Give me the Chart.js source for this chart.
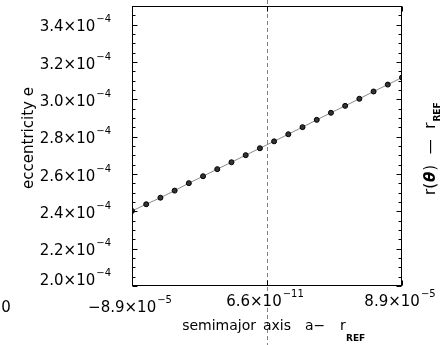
<!DOCTYPE html>
<html>
<head>
<meta charset="utf-8">
<script src="https://cdn.jsdelivr.net/npm/chart.js@4.4.0/dist/chart.umd.min.js"></script>
<style>
    html, body { margin: 0; padding: 0; background: #fff; }
    canvas { display: block; }
</style>
</head>
<body>
<canvas id="chart" width="441" height="345"></canvas>
<script>
// Datos: semieje mayor (a - r_REF) y excentricidad
const semimajorOffsets = [
    -8.900e-5, -7.963e-5, -7.026e-5, -6.089e-5, -5.153e-5,
    -4.216e-5, -3.279e-5, -2.342e-5, -1.405e-5, -0.468e-5,
     0.468e-5,  1.405e-5,  2.342e-5,  3.279e-5,  4.216e-5,
     5.153e-5,  6.089e-5,  7.026e-5,  7.963e-5,  8.900e-5
];
const eccentricities = [
    2.402e-4, 2.438e-4, 2.473e-4, 2.511e-4, 2.551e-4,
    2.588e-4, 2.626e-4, 2.663e-4, 2.701e-4, 2.738e-4,
    2.775e-4, 2.813e-4, 2.851e-4, 2.890e-4, 2.928e-4,
    2.965e-4, 3.003e-4, 3.042e-4, 3.079e-4, 3.117e-4
];

// Referencia (linea discontinua)
const referenceOffset = 6.6e-11;

// Etiquetas de los ejes
const xTickValues = [-8.9e-5, 6.6e-11, 8.9e-5];
const xTickMantissas = ['\u22128.9', '6.6', '8.9'];
const xTickExponents = ['\u22125', '\u221211', '\u22125'];
const yTickValues = [2.0e-4, 2.2e-4, 2.4e-4, 2.6e-4, 2.8e-4, 3.0e-4, 3.2e-4, 3.4e-4];
const yTickMantissas = ['2.0', '2.2', '2.4', '2.6', '2.8', '3.0', '3.2', '3.4'];
const yTickExponent = '\u22124';
const yMinorStep = 0.05e-4;

const FONT = '"DejaVu Sans", sans-serif';

/**
 * Dibuja un numero tipo 3.4x10^-4 con el exponente elevado
 */
function drawPower(ctx, mantissa, exponent, x, y, align) {
    ctx.font = '15px ' + FONT;
    const main = mantissa + '\u00d710';
    const wMain = ctx.measureText(main).width;
    ctx.font = '10px ' + FONT;
    const wExp = ctx.measureText(exponent).width;
    const total = wMain + 1 + wExp;
    const start = align === 'right' ? x - total : x - total / 2;
    ctx.textAlign = 'left';
    ctx.font = '15px ' + FONT;
    ctx.fillText(main, start, y);
    ctx.font = '10px ' + FONT;
    ctx.fillText(exponent, start + wMain + 1, y - 9);
}

const axisDecor = {
    id: 'axisDecor',
    beforeDatasetsDraw(chart) {
        const ctx = chart.ctx;
        const px = Math.round(chart.scales.x.getPixelForValue(referenceOffset)) + 0.5;
        ctx.save();
        ctx.strokeStyle = '#808080';
        ctx.lineWidth = 1;
        ctx.setLineDash([4, 3]);
        ctx.beginPath();
        ctx.moveTo(px, 0);
        ctx.lineTo(px, chart.height);
        ctx.stroke();
        ctx.restore();
    },
    afterDraw(chart) {
        const ctx = chart.ctx;
        const area = chart.chartArea;
        const xs = chart.scales.x;
        const ys = chart.scales.y;
        const L = Math.round(area.left) + 0.5, R = Math.round(area.right) - 0.5;
        const T = Math.round(area.top) + 0.5, B = Math.round(area.bottom) - 0.5;

        ctx.save();
        ctx.strokeStyle = '#000';
        ctx.lineWidth = 1;
        ctx.strokeRect(L, T, R - L, B - T);

        // Marcas del eje Y (mayores y menores), izquierda y derecha
        ctx.beginPath();
        for (let v = ys.min; v <= ys.max + yMinorStep / 2; v += yMinorStep) {
            const py = Math.round(ys.getPixelForValue(v)) + 0.5;
            const major = yTickValues.some(t => Math.abs(t - v) < yMinorStep / 10);
            const len = major ? 5 : 3;
            ctx.moveTo(L, py); ctx.lineTo(L + len, py);
            ctx.moveTo(R, py); ctx.lineTo(R - len, py);
        }
        // Marcas del eje X, abajo y arriba
        xTickValues.forEach(v => {
            const px = Math.round(xs.getPixelForValue(v)) + 0.5;
            ctx.moveTo(px, B); ctx.lineTo(px, B - 5);
            ctx.moveTo(px, T); ctx.lineTo(px, T + 5);
        });
        ctx.stroke();

        ctx.fillStyle = '#000';
        ctx.textBaseline = 'alphabetic';

        // Etiquetas Y
        yTickValues.forEach((v, i) => {
            const py = ys.getPixelForValue(v);
            const base = i === 0 ? py - 1 : py + 6.5;
            drawPower(ctx, yTickMantissas[i], yTickExponent, 111, base, 'right');
        });

        // Etiquetas X
        xTickValues.forEach((v, i) => {
            const px = xs.getPixelForValue(v);
            const base = i === 0 ? 312 : 306;
            drawPower(ctx, xTickMantissas[i], xTickExponents[i], px - 2, base, 'center');
        });

        // Etiqueta suelta del panel vecino
        ctx.font = '15px ' + FONT;
        ctx.textAlign = 'center';
        ctx.fillText('0', 6, 312);

        // Titulo eje X (palabras con el espaciado ancho del original)
        ctx.font = '14px ' + FONT;
        ctx.textAlign = 'right';
        ctx.fillText('semimajor', 256, 330);
        ctx.textAlign = 'left';
        ctx.fillText('axis', 263, 330);
        ctx.fillText('a\u2212', 305, 330);
        ctx.fillText('r', 340, 330);
        ctx.font = 'bold 9px ' + FONT;
        ctx.fillText('REF', 346, 341);

        // Titulo eje Y
        ctx.save();
        ctx.translate(33, 138);
        ctx.rotate(-Math.PI / 2);
        ctx.font = '15px ' + FONT;
        ctx.textAlign = 'center';
        ctx.fillText('eccentricity e', 0, 0);
        ctx.restore();

        // Titulo del panel derecho (cortado)
        ctx.save();
        ctx.translate(435, 195);
        ctx.rotate(-Math.PI / 2);
        ctx.textAlign = 'left';
        let cx = 0;
        const pieces = [
            ['r(', '15px ' + FONT, 0],
            ['\u03b8', 'bold italic 15px ' + FONT, 0],
            [')', '15px ' + FONT, 0],
            ['  \u2014  ', '15px ' + FONT, 0],
            ['r', '15px ' + FONT, 0],
            ['REF', 'bold 9px ' + FONT, 5]
        ];
        pieces.forEach(p => {
            ctx.font = p[1];
            ctx.fillText(p[0], cx, p[2]);
            cx += ctx.measureText(p[0]).width + 1;
        });
        ctx.restore();

        ctx.restore();
    }
};

new Chart(document.getElementById('chart').getContext('2d'), {
    type: 'line',
    data: {
        datasets: [{
            data: semimajorOffsets.map((a, i) => ({ x: a, y: eccentricities[i] })),
            borderColor: '#8a8a8a',
            borderWidth: 1,
            pointRadius: 2.5,
            pointBackgroundColor: '#333',
            pointBorderColor: '#000',
            pointBorderWidth: 1,
            tension: 0,
            fill: false
        }]
    },
    options: {
        responsive: false,
        animation: false,
        devicePixelRatio: 1,
        events: [],
        layout: { padding: { top: 6, right: 39, left: 0, bottom: 0 } },
        plugins: { legend: { display: false }, tooltip: { enabled: false } },
        scales: {
            x: {
                type: 'linear',
                min: -8.9e-5,
                max: 8.9e-5,
                ticks: { display: false },
                grid: { display: false },
                border: { display: false },
                afterFit(s) { s.height = 59; }
            },
            y: {
                type: 'linear',
                min: 2.0e-4,
                max: 3.5e-4,
                ticks: { display: false },
                grid: { display: false },
                border: { display: false },
                afterFit(s) { s.width = 132; }
            }
        }
    },
    plugins: [axisDecor]
});
</script>
</body>
</html>
